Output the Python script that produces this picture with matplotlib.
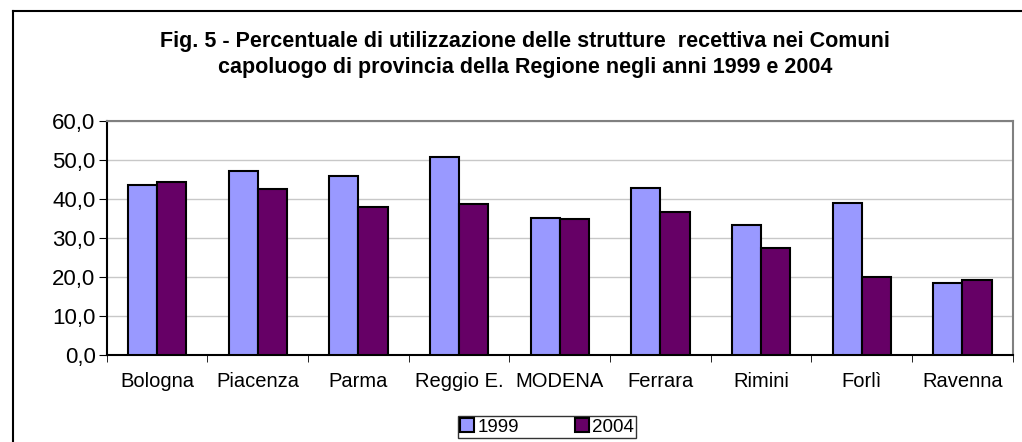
import numpy as np
import matplotlib
matplotlib.use('Agg')
import matplotlib.pyplot as plt
from matplotlib.lines import Line2D

plt.rcParams['font.family'] = ['Liberation Sans', 'DejaVu Sans']

comuni = ['Bologna', 'Piacenza', 'Parma', 'Reggio E.', 'MODENA', 'Ferrara', 'Rimini', 'Forlì', 'Ravenna']
v1999 = [43.7, 47.1, 46.0, 50.9, 35.1, 42.7, 33.3, 39.0, 18.4]
v2004 = [44.4, 42.6, 37.9, 38.6, 34.9, 36.7, 27.4, 19.9, 19.2]
yticks = [0, 10, 20, 30, 40, 50, 60]

fig = plt.figure(figsize=(10.22, 4.42), dpi=100)
ax = fig.add_axes([0.1044, 0.1968, 0.8866, 0.5294])

x = np.arange(len(comuni))
w = 0.29
ax.bar(x - w/2, v1999, w, color='#9999ff', edgecolor='black', linewidth=1.5, label='1999', zorder=3)
ax.bar(x + w/2, v2004, w, color='#660066', edgecolor='black', linewidth=1.5, label='2004', zorder=3)

ax.set_xlim(-0.5, len(comuni) - 0.5)
ax.set_ylim(0, 60)
ax.set_yticks(yticks)
ax.set_yticklabels([f'{t:.1f}'.replace('.', ',') for t in yticks], fontsize=16)
ax.yaxis.grid(True, color='#c8c8c8', linewidth=1)
ax.set_axisbelow(True)

ax.set_xticks(x)
ax.set_xticklabels(comuni, fontsize=14.5)
ax.tick_params(axis='x', length=0, pad=12)
ax.set_xticks(np.arange(len(comuni) + 1) - 0.5, minor=True)
ax.tick_params(axis='x', which='minor', length=5, direction='out', color='black')
ax.tick_params(axis='y', length=6, direction='out', color='black', pad=2)

ax.spines['left'].set_color('black')
ax.spines['bottom'].set_color('black')
ax.spines['top'].set_color('#808080')
ax.spines['right'].set_color('#808080')
for s in ax.spines.values():
    s.set_linewidth(1.5)

tx = 525 / 1022
fig.text(tx, 1 - 42/442, 'Fig. 5 - Percentuale di utilizzazione delle strutture  recettiva nei Comuni',
         ha='center', va='center', fontsize=15.5, fontweight='bold')
fig.text(tx, 1 - 67/442, 'capoluogo di provincia della Regione negli anni 1999 e 2004',
         ha='center', va='center', fontsize=15.5, fontweight='bold')

# chart frame (left and top edges)
fig.add_artist(Line2D([12.5/1022, 12.5/1022], [0, 1 - 11/442], transform=fig.transFigure, color='black', linewidth=1.5))
fig.add_artist(Line2D([12.5/1022, 1], [1 - 11/442, 1 - 11/442], transform=fig.transFigure, color='black', linewidth=1.5))

leg = fig.legend(loc='center', bbox_to_anchor=(547/1022, 1 - 427/442), ncol=2, fontsize=13.5,
                 frameon=True, fancybox=False, edgecolor='black', handlelength=0.75, handleheight=0.75,
                 handletextpad=0.15, columnspacing=3.0, borderpad=0.1, borderaxespad=0)
leg.get_frame().set_linewidth(1)

fig.savefig('out.png', dpi=100)
